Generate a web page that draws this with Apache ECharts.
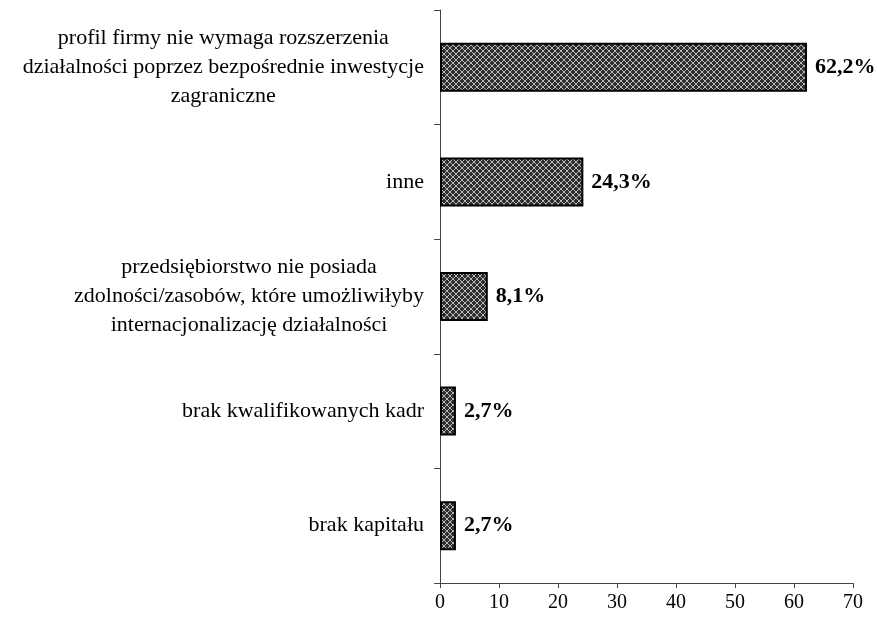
<!DOCTYPE html>
<html>
<head>
<meta charset="utf-8">
<script src="https://cdn.jsdelivr.net/npm/echarts@6/dist/echarts.min.js"></script>
<style>
  html, body { margin: 0; padding: 0; background: #fff; }
  #chart { width: 877px; height: 624px; }
</style>
</head>
<body>
<div id="chart"></div>
<script>
// categories from bottom to top (as on the y axis)
const categories = [
  "brak kapitału",
  "brak kwalifikowanych kadr",
  "przedsiębiorstwo nie posiada\nzdolności/zasobów, które umożliwiłyby\ninternacjonalizację działalności",
  "inne",
  "profil firmy nie wymaga rozszerzenia\ndziałalności poprzez bezpośrednie inwestycje\nzagraniczne",
];
const values = [2.7, 2.7, 8.1, 24.3, 62.2];
const valueLabels = ["2,7%", "2,7%", "8,1%", "24,3%", "62,2%"];

// crosshatch fill like the original
function makePattern() {
  const c = document.createElement("canvas");
  c.width = 6;
  c.height = 6;
  const ctx = c.getContext("2d");
  ctx.fillStyle = "#2e2e2e";
  ctx.fillRect(0, 0, 6, 6);
  ctx.fillStyle = "#b8b8b8";
  for (let i = 0; i < 6; i++) {
    ctx.fillRect(i, i, 1, 1);
    ctx.fillRect(5 - i, i, 1, 1);
  }
  return c;
}

const chart = echarts.init(document.getElementById("chart"));
const serif = "Liberation Serif";

chart.setOption({
  animation: false,
  backgroundColor: "#fff",
  grid: { left: 440, right: 24, top: 10, bottom: 41, containLabel: false },
  xAxis: {
    type: "value",
    min: 0,
    max: 70,
    interval: 10,
    splitLine: { show: false },
    axisLine: { show: true, lineStyle: { color: "#444", width: 1 } },
    axisTick: { show: true, length: 5, lineStyle: { color: "#444" } },
    axisLabel: {
      margin: 10,
      color: "#000",
      fontFamily: serif,
      fontSize: 20,
    },
  },
  yAxis: {
    type: "category",
    data: categories,
    axisLine: { show: true, lineStyle: { color: "#444", width: 1 } },
    axisTick: { show: true, length: 6, lineStyle: { color: "#444" } },
    axisLabel: {
      margin: 16,
      color: "#000",
      fontFamily: serif,
      fontSize: 22,
      lineHeight: 29,
      formatter: (v) => v.split("\n").map((s) => "{c|" + s + "}").join("\n"),
      rich: {
        c: { align: "center", fontFamily: serif, fontSize: 22, lineHeight: 29, color: "#000" },
      },
    },
  },
  series: [
    {
      type: "bar",
      data: values,
      barWidth: 49,
      itemStyle: {
        color: { image: makePattern(), repeat: "repeat" },
        borderColor: "#000",
        borderWidth: 2,
      },
      label: {
        show: true,
        position: "right",
        distance: 8,
        color: "#000",
        fontFamily: serif,
        fontWeight: "bold",
        fontSize: 22,
        formatter: (p) => valueLabels[p.dataIndex],
      },
    },
  ],
});
</script>
</body>
</html>
